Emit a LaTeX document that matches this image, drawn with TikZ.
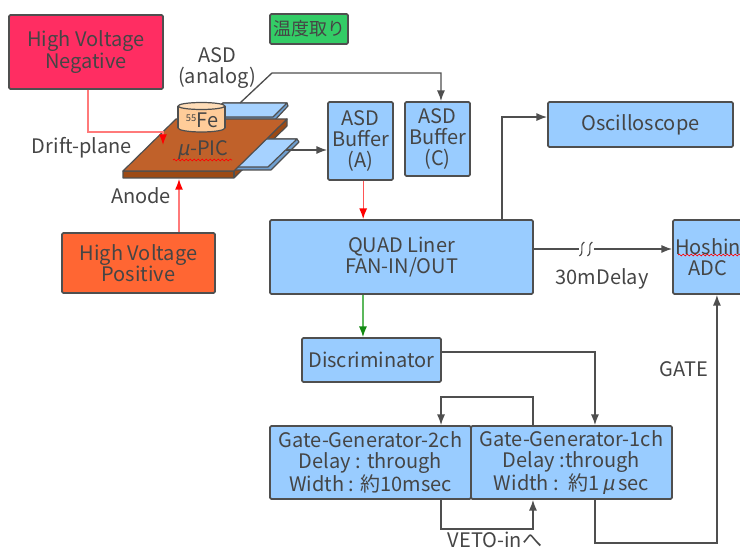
\documentclass[tikz,border=0pt]{standalone}
\usepackage{fontspec}
\setmainfont{Noto Sans CJK JP}
\newfontfamily\slanted[FakeSlant=0.2]{Noto Sans CJK JP}
\usetikzlibrary{arrows.meta,decorations.pathmorphing,calc}

\definecolor{ink}{HTML}{454545}
\definecolor{frame}{HTML}{4F4F4F}
\definecolor{panel}{HTML}{99CCFF}
\definecolor{hvneg}{HTML}{FF2D62}
\definecolor{hvpos}{HTML}{FF6633}
\definecolor{thermo}{HTML}{33CC66}
\definecolor{pictop}{HTML}{C0612A}
\definecolor{picside}{HTML}{9C4A15}
\definecolor{source}{HTML}{FFCC99}
\definecolor{sourcetop}{HTML}{FFDDB8}
\definecolor{plate}{HTML}{A6D2FF}
\definecolor{plateedge}{HTML}{6F9FD0}
\definecolor{hvwire}{HTML}{FF7A7A}
\definecolor{sigred}{HTML}{FF5555}
\definecolor{siggreen}{HTML}{5CB85C}
\definecolor{tipgreen}{HTML}{138A13}

\tikzset{
  every node/.style={text=ink, font=\fontsize{15}{16}\selectfont},
  blk/.style 2 args={draw=frame, line width=1.3pt, rounded corners=1pt, inner sep=0pt,
    align=center, minimum width=#1*0.75pt, minimum height=#2*0.75pt},
  wire/.style={draw=frame, line width=1pt},
  conn/.style={wire, -{Latex[length=8pt,width=6pt]}},
  hvline/.style={draw=hvwire, line width=1pt, -{Latex[length=8pt,width=6pt,color=red]}},
  redline/.style={draw=sigred, line width=1pt, -{Latex[length=8pt,width=6pt,color=red]}},
  greenline/.style={draw=siggreen, line width=1pt, -{Latex[length=8pt,width=6pt,color=tipgreen]}},
  solid3d/.style={draw=frame, line width=0.9pt, line join=round},
  squiggle/.style={draw=red, line width=0.5pt, decorate,
    decoration={snake, amplitude=0.7pt, segment length=3pt}},
}

\begin{document}
\begin{tikzpicture}[x=0.75pt,y=-0.75pt]
\useasboundingbox (0,0) rectangle (740,549);

% ---------- blocks ----------
\node[blk={154}{74}, fill=hvneg] (hvn) at (86,52) {High Voltage\\Negative};
\node[blk={153}{60}, fill=hvpos] (hvp) at (138.5,263) {High Voltage\\Positive};
\node[blk={78}{30}, fill=thermo, font=\fontsize{13.5}{14}\selectfont] (temp) at (309,29) {温度取り};
\node[blk={65}{78}, fill=panel] (bufA) at (360.5,141) {ASD\\Buffer\\(A)};
\node[blk={65}{74}, fill=panel] (bufC) at (437.5,139) {ASD\\Buffer\\(C)};
\node[blk={185}{45}, fill=panel] (osc) at (640.5,124.5) {Oscilloscope};
\node[blk={263}{74}, fill=panel] (quad) at (401.5,257) {QUAD Liner\\FAN-IN/OUT};
\node[blk={70}{74}, fill=panel] (adc) at (708,257) {Hoshin\\ADC};
\node[blk={139}{44}, fill=panel] (disc) at (371.5,360) {Discriminator};
\node[blk={201}{73}, fill=panel] (gg2) at (370.5,462.5)
  {Gate-Generator-2ch\\Delay : through\\Width : 約10msec};
\node[blk={201}{73}, fill=panel] (gg1) at (571.5,462.5)
  {Gate-Generator-1ch\\Delay :through\\Width :\ \ 約1\,{\slanted μ}\,sec};

% ---------- detector (mu-PIC) ----------
% upper readout plate
\filldraw[fill=plateedge, solid3d] (209,117) -- (223,103) -- (287,103) -- (288,106) -- (275,120) -- (209,120) -- cycle;
\filldraw[fill=plate, solid3d] (209,117) -- (223,103) -- (287,103) -- (273,117) -- cycle;
% side faces of the board
\filldraw[fill=picside, solid3d] (123,171) -- (234,171) -- (287,119) -- (287,126) -- (234,178) -- (123,178) -- cycle;
% lower readout plate
\filldraw[fill=plateedge, solid3d] (226,167) -- (255,139) -- (297,139) -- (299,142) -- (271,170) -- (226,170) -- cycle;
\filldraw[fill=plate, solid3d] (226,167) -- (255,139) -- (297,139) -- (268,167) -- cycle;
% top face of the board
\filldraw[fill=pictop, solid3d] (123,171) -- (176,119) -- (287,119) -- (234,171) -- cycle;
\draw[solid3d] (234,171) -- (234,178);
% 55Fe source
\filldraw[fill=source, solid3d] (201.5,128) ellipse[x radius=23.5, y radius=4];
\fill[source] (178,106) rectangle (225,128);
\draw[solid3d] (178,106) -- (178,128) (225,106) -- (225,128);
\filldraw[fill=sourcetop, solid3d] (201.5,106) ellipse[x radius=23.5, y radius=3.5];
\node (fe) at (202,120) {\raisebox{4.5pt}{\fontsize{7}{7}\selectfont 55}Fe};
\node (mupic) at (203,150) {{\slanted μ}-PIC};
\draw[squiggle] (173,160) -- (232,160);
\draw[squiggle] (678,255) -- (742,255);

% ---------- free labels ----------
\node[align=center] (asdlbl) at (217,68) {ASD\\(analog)};
\node (driftlbl) at (82,148) {Drift-plane};
\node (anodelbl) at (141,196) {Anode};
\node (delaylbl) at (602,279) {30mDelay};
\node (gatelbl) at (684,369) {GATE};
\node (vetolbl) at (495,540) {VETO-inへ};

% ---------- connectors ----------
\coordinate (plateup) at (240,103);
\coordinate (bend) at (272,73);
\coordinate (cin) at ([xshift=2.6pt]bufC.north);
\draw[conn] (plateup) -- (bend) -| (cin);

\coordinate (plateout) at (286,150);
\draw[conn] (plateout) -- (plateout -| bufA.west);

\coordinate (driftin) at (163,145);
\draw[hvline] ([xshift=1.5pt]hvn.south) -- ++(0,42) -| (driftin);

\coordinate (anodein) at (179,179);
\draw[hvline] (anodein |- hvp.north) -- (anodein);

\coordinate (aout) at ([xshift=2pt]bufA.south);
\draw[redline] (aout) -- (aout |- quad.north);

\coordinate (quadtap) at ([xshift=-28.9pt]quad.south);
\draw[greenline] (quadtap) -- (quadtap |- disc.north);

\coordinate (scopetap) at ([xshift=75.4pt]quad.north);
\draw[conn] (scopetap) |- ([yshift=5.6pt]osc.west);

% delay cable with break marks
\coordinate (qout) at ([yshift=6pt]quad.east);
\coordinate (brkA) at ($(qout)+(45,0)$);
\coordinate (brkB) at ($(qout)+(60,0)$);
\draw[wire] (qout) -- (brkA);
\draw[conn] (brkB) -- (brkB -| adc.west);
\foreach \dx in {3,11}{
  \draw[wire, line width=0.9pt] ($(brkA)+(\dx+2.5,-7)$) .. controls ($(brkA)+(\dx-3.5,-3)$) and ($(brkA)+(\dx+3.5,3)$) .. ($(brkA)+(\dx-2.5,7)$);
}

\draw[conn] ([yshift=6pt]disc.east) -| ([xshift=17.6pt]gg1.north);
\draw[conn] ([xshift=-28.9pt]gg1.north) -- ++(0,-28) -| ([xshift=52.9pt]gg2.north);
\draw[conn] ([xshift=52.9pt]gg2.south) -- ++(0,29) -| ([xshift=-28.9pt]gg1.south);
\coordinate (g1out) at ([xshift=17.6pt]gg1.south);
\draw[conn] (g1out) -- ++(0,43) -| ([xshift=6.7pt]adc.south);

\end{tikzpicture}
\end{document}
